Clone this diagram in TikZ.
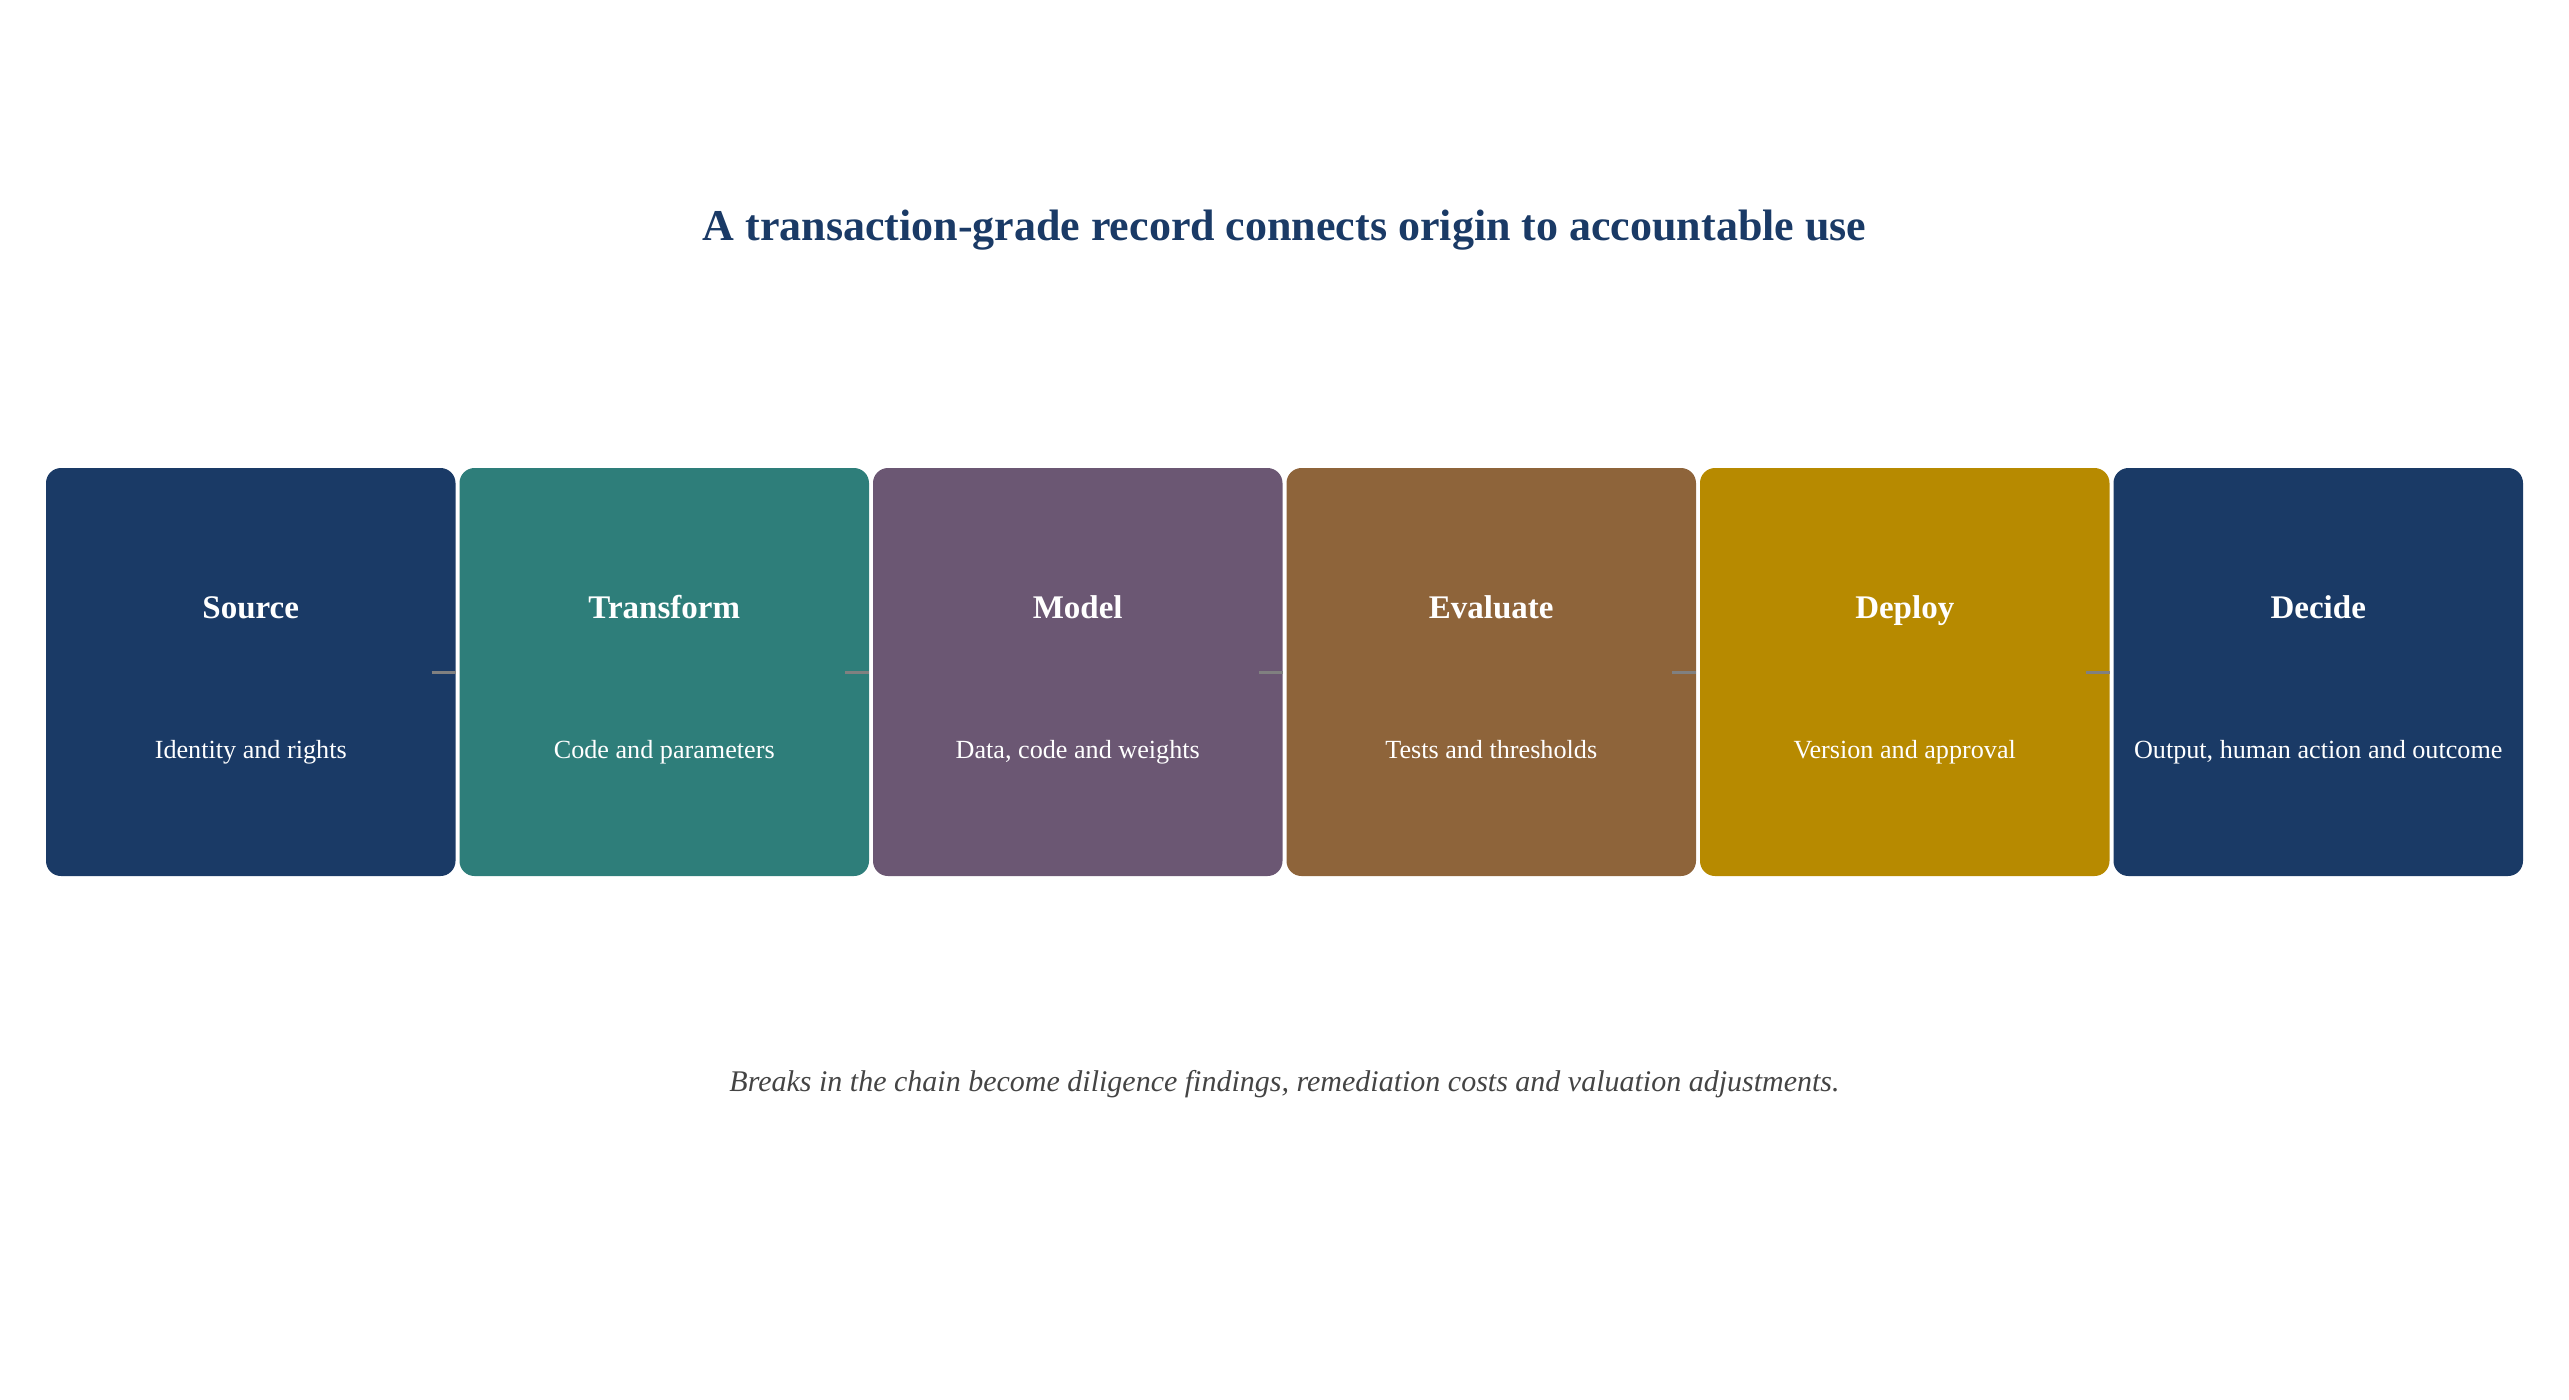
\documentclass[tikz,border=0pt]{standalone}
\usepackage{fontspec}
\setmainfont{Liberation Serif}
\usetikzlibrary{positioning}

% --- Colours ---
\definecolor{navy}{HTML}{1A3A66}
\definecolor{teal}{HTML}{2E7E7A}
\definecolor{plum}{HTML}{6B5773}
\definecolor{bronze}{HTML}{8E643A}
\definecolor{gold}{HTML}{B78A00}
\definecolor{ink}{HTML}{444444}
\definecolor{linkgray}{HTML}{808080}

\tikzset{
    stage/.style={rectangle, rounded corners=4.5pt, inner sep=0pt, outer sep=0pt,
        minimum width=122.85pt, minimum height=122.4pt},
    stagename/.style={anchor=base, text=white, font=\fontsize{9.9pt}{11pt}\selectfont\bfseries},
    stagenote/.style={anchor=base, text=white, font=\fontsize{7.85pt}{9pt}\selectfont},
    link/.style={draw=linkgray, line width=0.9pt}
}

\begin{document}
\begin{tikzpicture}[x=0.3pt, y=-0.3pt, node distance=1.2pt]
    % --- Canvas ---
    \useasboundingbox (0,0) rectangle (2569,1399);

    % --- Title ---
    \node[anchor=base, text=navy, font=\fontsize{13.2pt}{16pt}\selectfont\bfseries]
        (title) at (1284.5,240) {A transaction-grade record connects origin to accountable use};

    % --- Stages ---
    \node[stage, fill=navy] (source) at (250.75,672) {};
    \node[stage, fill=teal, right=of source] (transform) {};
    \node[stage, fill=plum, right=of transform] (model) {};
    \node[stage, fill=bronze, right=of model] (evaluate) {};
    \node[stage, fill=gold, right=of evaluate] (deploy) {};
    \node[stage, fill=navy, right=of deploy] (decide) {};

    % --- Stage texts ---
    \node[stagename] (source-t) at ([yshift=16.2pt]source.center) {Source};
    \node[stagenote] (source-d) at ([yshift=-25.8pt]source.center) {Identity and rights};
    \node[stagename] (transform-t) at ([yshift=16.2pt]transform.center) {Transform};
    \node[stagenote] (transform-d) at ([yshift=-25.8pt]transform.center) {Code and parameters};
    \node[stagename] (model-t) at ([yshift=16.2pt]model.center) {Model};
    \node[stagenote] (model-d) at ([yshift=-25.8pt]model.center) {Data, code and weights};
    \node[stagename] (evaluate-t) at ([yshift=16.2pt]evaluate.center) {Evaluate};
    \node[stagenote] (evaluate-d) at ([yshift=-25.8pt]evaluate.center) {Tests and thresholds};
    \node[stagename] (deploy-t) at ([yshift=16.2pt]deploy.center) {Deploy};
    \node[stagenote] (deploy-d) at ([yshift=-25.8pt]deploy.center) {Version and approval};
    \node[stagename] (decide-t) at ([yshift=16.2pt]decide.center) {Decide};
    \node[stagenote] (decide-d) at ([yshift=-25.8pt]decide.center) {Output, human action and outcome};

    % --- Links (stubs at the right edge of each stage) ---
    \coordinate (source-out) at ([xshift=-7.2pt]source.east);
    \coordinate (transform-out) at ([xshift=-7.2pt]transform.east);
    \coordinate (model-out) at ([xshift=-7.2pt]model.east);
    \coordinate (evaluate-out) at ([xshift=-7.2pt]evaluate.east);
    \coordinate (deploy-out) at ([xshift=-7.2pt]deploy.east);
    \draw[link] (source-out) -- (source.east);
    \draw[link] (transform-out) -- (transform.east);
    \draw[link] (model-out) -- (model.east);
    \draw[link] (evaluate-out) -- (evaluate.east);
    \draw[link] (deploy-out) -- (deploy.east);

    % --- Footnote ---
    \node[anchor=base, text=ink, font=\fontsize{9pt}{10pt}\selectfont\itshape]
        (footnote) at (1284.5,1091) {Breaks in the chain become diligence findings, remediation costs and valuation adjustments.};

\end{tikzpicture}
\end{document}
